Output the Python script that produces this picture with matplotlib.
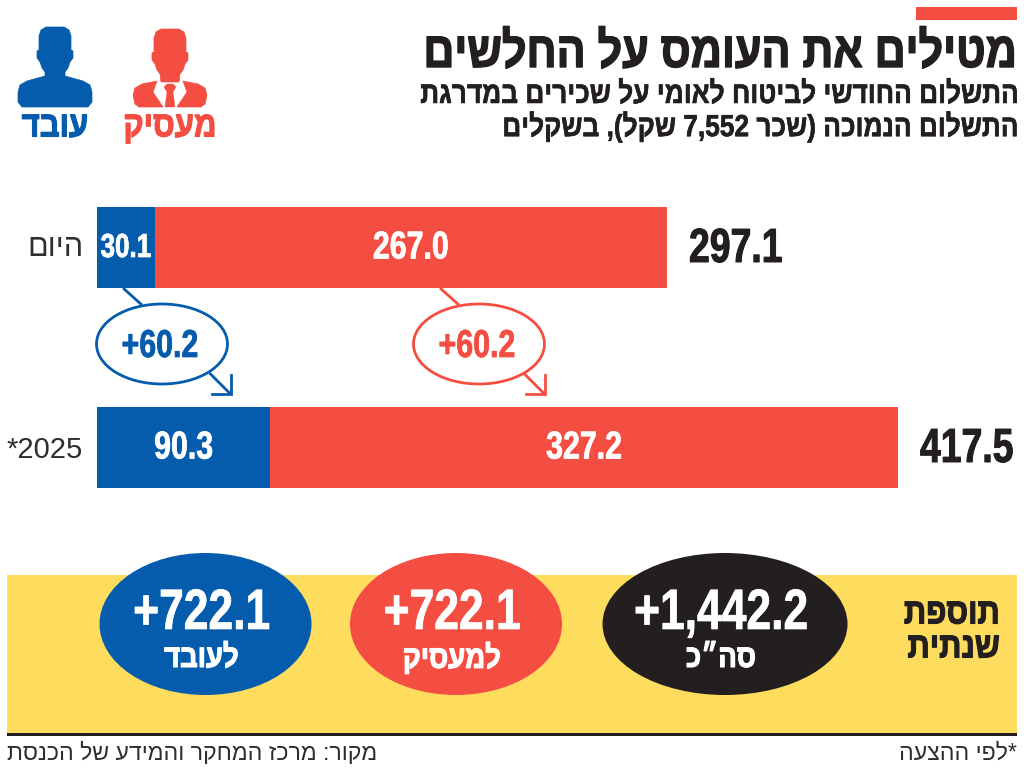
import re
import matplotlib
matplotlib.use("Agg")
import matplotlib.pyplot as plt
from matplotlib.patches import Ellipse, Rectangle, Polygon
import matplotlib.patheffects as pe
from matplotlib import font_manager as fm
from fontTools.ttLib import TTFont

RED = "#F44E42"; BLUE = "#055CAD"; YEL = "#FEDD5E"; BLK = "#231F20"; GREY = "#2E2E2E"

categories = ["היום", "2025*"]
worker = [30.1, 90.3]
employer = [267.0, 327.2]
delta_labels = ["+60.2", "+60.2"]
annual_values = ["+722.1", "+722.1", "+1,442.2"]
annual_labels = ["לעובד", "למעסיק", 'סה"כ']
title = "מטילים את העומס על החלשים"
sub1 = "התשלום החודשי לביטוח לאומי על שכירים במדרגת"
sub2 = "התשלום הנמוכה (שכר 7,552 שקל), בשקלים"
source = "מקור: מרכז המחקר והמידע של הכנסת"
note = "*לפי ההצעה"


def condensed(scale, out):
    """Write a horizontally condensed copy of Liberation Sans Bold (none is installed)."""
    src = fm.findfont(fm.FontProperties(family="Liberation Sans", weight="bold"))
    f = TTFont(src)
    glyf = f["glyf"]
    hmtx = f["hmtx"]
    for name in glyf.keys():
        g = glyf[name]
        if g.isComposite():
            for c in g.components:
                c.x = int(round(c.x * scale))
        elif g.numberOfContours > 0:
            g.coordinates.scale((scale, 1))
            g.coordinates.toInt()
        if g.numberOfContours != 0:
            if hasattr(g, "program"):
                g.program.fromBytecode(b"")
            g.recalcBounds(glyf)
        adv, lsb = hmtx[name]
        hmtx[name] = (int(round(adv * scale)), int(round(lsb * scale)))
    for tag in ("fpgm", "prep", "cvt ", "hdmx", "kern", "GPOS", "VDMX", "LTSH"):
        if tag in f:
            del f[tag]
    f.save(out)
    return fm.FontProperties(fname=out)


NUM = condensed(0.78, "cond78.ttf")
HVY = condensed(0.86, "cond86.ttf")


def vis(s):
    """Visual-order form of a logical right-to-left string (matplotlib has no bidi)."""
    s = s.replace('"', "״")
    r = s[::-1].translate(str.maketrans("()", ")("))
    return re.sub(r"[0-9][0-9.,]*[0-9]|[0-9]", lambda m: m.group(0)[::-1], r)


W, H = 1024, 770
fig = plt.figure(figsize=(W/100, H/100), dpi=100, facecolor="white")
px = fig.add_axes([0, 0, 1, 1]); px.set_xlim(0, W); px.set_ylim(H, 0); px.axis("off")


def T(x, y, s, size, color=BLK, ha="center", fp=NUM, stroke=0, ax=px):
    p = fp.copy(); p.set_size(size)
    t = ax.text(x, y, s, fontproperties=p, color=color, ha=ha, va="center", zorder=6)
    if stroke:
        t.set_path_effects([pe.withStroke(linewidth=stroke, foreground=color)])
    return t


REG = fm.FontProperties(family=["Liberation Sans", "DejaVu Sans"])

# header
px.add_patch(Rectangle((916, 7), 101, 13, color=RED, lw=0))
T(1017, 54, vis(title), 36, ha="right", fp=HVY, stroke=1.0)
T(1017, 95, vis(sub1), 22, ha="right", fp=HVY, stroke=0.4)
T(1017, 127, vis(sub2), 22, ha="right", fp=HVY, stroke=0.4)

# figures
half_head = [(9, 27), (14, 30), (16, 36), (16, 50), (18, 51), (18, 58), (15, 62), (13, 68), (10, 72)]
def mirror(cx, pts):
    return [(cx+x, y) for x, y in pts] + [(cx-x, y) for x, y in reversed(pts)]

blue_half = half_head + [(10, 76), (28, 81), (35, 85), (37, 92), (37, 102), (33, 107)]
px.add_patch(Polygon(mirror(55, blue_half), closed=True, fc=BLUE, ec=BLUE, lw=0.5, joinstyle="round"))

head_red = [(x, y+2) for x, y in half_head] + [(9, 82)]
px.add_patch(Polygon(mirror(170, head_red), closed=True, fc=RED, ec=RED, lw=0.5))
for sgn in (-1, 1):
    shoulder = [(-13, 81), (-28, 84), (-35, 88), (-37, 95), (-35, 104), (-31, 107), (-7, 107), (-17, 92)]
    px.add_patch(Polygon([(170+sgn*x, y) for x, y in shoulder], closed=True, fc=RED, ec=RED, lw=0.5))
tie = [(170-6, 87), (170-3, 84), (170+3, 84), (170+6, 87), (170+3, 92), (170+5, 107), (170-5, 107), (170-3, 92)]
px.add_patch(Polygon(tie, closed=True, fc=RED, ec=RED, lw=0.3))

T(55, 127, vis("עובד"), 26, BLUE, fp=HVY, stroke=0.8)
T(170, 127, vis("מעסיק"), 26, RED, fp=HVY, stroke=0.8)

# bars: data x scale, pixel y
SCALE = 801 / (worker[1] + employer[1])
ax = fig.add_axes([0, 0, 1, 1], zorder=2); ax.patch.set_alpha(0)
ax.set_xlim(-97/SCALE, (W-97)/SCALE); ax.set_ylim(H, 0); ax.axis("off")
rows = [247.5, 447.5]
ax.barh(rows, worker, height=81, color=BLUE, lw=0)
ax.barh(rows, employer, left=worker, height=81, color=RED, lw=0)
for i, y in enumerate(rows):
    T(worker[i]/2, y+1, f"{worker[i]:.1f}", 24 if i == 0 else 28, "white", ax=ax, stroke=0.5)
    T(worker[i]+employer[i]/2, y+1, f"{employer[i]:.1f}", 28, "white", ax=ax, stroke=0.5)
    T(worker[i]+employer[i]+22/SCALE, y+2, f"{worker[i]+employer[i]:.1f}", 34.5, ha="left", ax=ax, stroke=0.7)
    T(83, y+3 if i else y, vis(categories[i]), 21 if i else 22, GREY, ha="right", fp=REG)

# change bubbles
for cx, tip, col, lab in zip([162, 479], [230.5, 544.5], [BLUE, RED], delta_labels):
    px.add_patch(Ellipse((cx, 344), 131, 80, fc="white", ec=col, lw=2))
    px.plot([cx-39, cx-20], [288, 305], color=col, lw=2, solid_capstyle="butt")
    px.plot([tip-21, tip], [373, 394], color=col, lw=2, solid_capstyle="butt")
    px.plot([tip, tip, tip-19], [375, 394, 394], color=col, lw=2, solid_joinstyle="miter")
    T(cx-2, 347, lab, 28, col, stroke=0.5)

# annual band
px.add_patch(Rectangle((7, 575), 1010, 158, color=YEL, lw=0))
px.add_patch(Rectangle((7, 733), 1010, 2.5, color=BLK, lw=0))
T(1000, 614, vis("תוספת"), 26, ha="right", fp=HVY, stroke=0.8)
T(1000, 648, vis("שנתית"), 26, ha="right", fp=HVY, stroke=0.8)
centres = [205.5, 456, 725]; widths = [212, 212, 245]; cols = [BLUE, RED, BLK]
for c, w, col, v, l in zip(centres, widths, cols, annual_values, annual_labels):
    px.add_patch(Ellipse((c, 624), w, 142, color=col, lw=0, zorder=3))
    T(c-4, 614, v, 41, "white", stroke=0.5)
    T(c-4, 659, vis(l), 23, "white", fp=HVY, stroke=0.8)

T(7, 753, vis(source), 16.7, GREY, ha="left", fp=REG)
T(1017, 753, vis(note), 16.7, GREY, ha="right", fp=REG)

fig.savefig("out.png", dpi=100)
